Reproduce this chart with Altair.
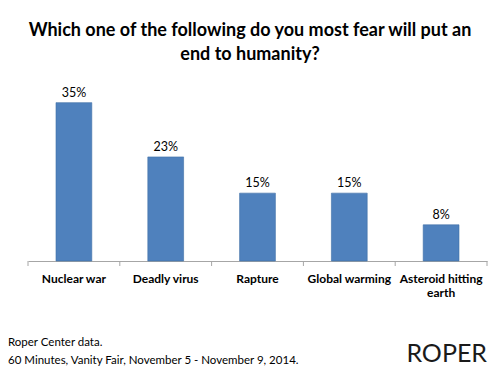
import altair as alt
import pandas as pd

categories = ["Nuclear war", "Deadly virus", "Rapture", "Global warming", "Asteroid hitting earth"]
values = [35, 23, 15, 15, 8]
value_labels = [f"{v}%" for v in values]
title_lines = ["Which one of the following do you most fear will put an", "end to humanity?"]
footnote_lines = ["Roper Center data.", "60 Minutes, Vanity Fair, November 5 - November 9, 2014."]
logo_text = "ROPER"

df = pd.DataFrame({"cat": categories, "val": values, "lbl": value_labels})

W, H = 459, 181
label_expr = "datum.value == 'Asteroid hitting earth' ? ['Asteroid hitting', 'earth'] : datum.label"

base = alt.Chart(df).encode(
    x=alt.X(
        "cat:N",
        sort=categories,
        scale=alt.Scale(paddingInner=0.61, paddingOuter=0.305),
        axis=alt.Axis(
            title=None, labelAngle=0, labelFont="Lato", labelFontWeight="bold",
            labelFontSize=12, labelColor="black", ticks=False, domainColor="#a6a6a6",
            labelPadding=12, labelExpr=label_expr, labelOverlap=False, labelLineHeight=14,
        ),
    )
)

bars = base.mark_bar(color="#4F81BD", stroke="#3e6fa6", strokeWidth=0.6).encode(
    y=alt.Y("val:Q", scale=alt.Scale(domain=[0, 40]), axis=None)
)
text = base.mark_text(dy=-10, font="Lato", fontSize=12.5, color="black").encode(
    y=alt.Y("val:Q"), text="lbl:N"
)
ticks = base.mark_rule(color="#a6a6a6", xOffset=-45.9).encode(
    y=alt.value(H), y2=alt.value(H + 5)
)
end_tick = alt.Chart(df.head(1)).mark_rule(color="#a6a6a6").encode(
    x=alt.value(W), y=alt.value(H), y2=alt.value(H + 5)
)

foot = alt.Chart(df.head(1)).mark_text(
    align="left", baseline="middle", font="Lato", fontSize=11.5, color="black",
    lineHeight=18, text=footnote_lines,
).encode(x=alt.value(-20), y=alt.value(263))

logo = alt.Chart(df.head(1)).mark_text(
    align="right", baseline="alphabetic", font="Lato", fontSize=25, color="#1a1a1a",
    text=logo_text,
).encode(x=alt.value(459), y=alt.value(282))

chart = alt.layer(bars, text, ticks, end_tick, foot, logo).properties(
    width=W, height=H,
    autosize=alt.AutoSizeParams(type="none"),
    padding={"left": 20, "top": 72, "right": 5, "bottom": 106},
    title=alt.TitleParams(
        text=title_lines, anchor="middle", frame="group", dx=-7.5,
        font="Lato", fontSize=18, fontWeight="bold", color="black",
        lineHeight=24, offset=16,
    ),
).configure_view(stroke=None)

chart.save("out.html", embed_options={"renderer": "svg", "actions": False})
